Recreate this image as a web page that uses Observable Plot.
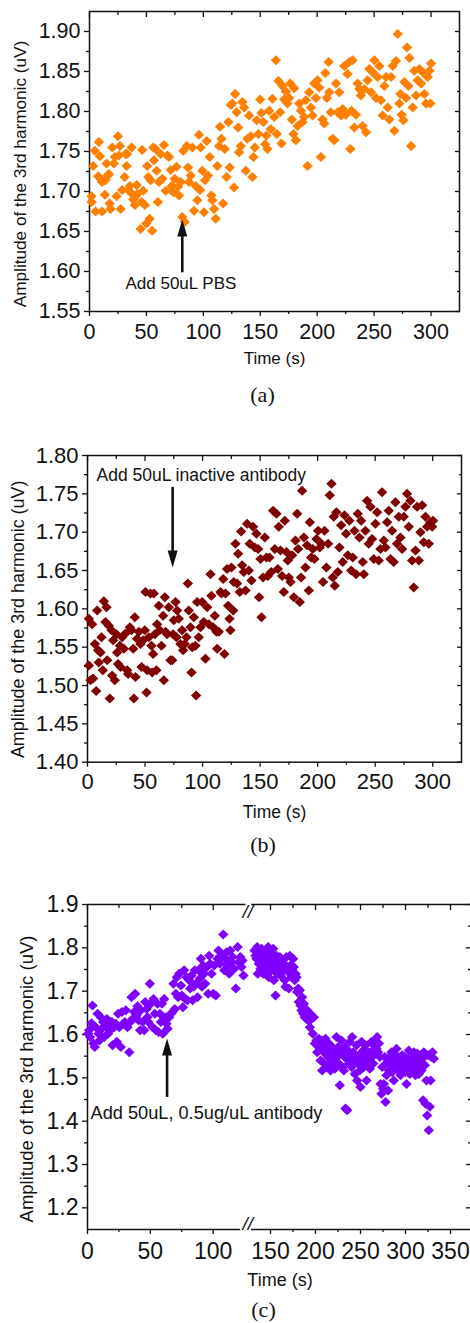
<!DOCTYPE html>
<html><head><meta charset="utf-8">
<script src="https://cdn.jsdelivr.net/npm/d3@7"></script>
<script src="https://cdn.jsdelivr.net/npm/@observablehq/plot@0.6"></script>
<style>
body{margin:0;background:#fff;}
#wrap{position:relative;width:470px;height:1323px;overflow:hidden;background:#fff;}
.panel{position:absolute;left:0;width:470px;}
.cap{position:absolute;font-family:"Liberation Serif","Times New Roman",serif;font-size:22px;color:#111;transform:translate(-50%,-50%);line-height:1;white-space:nowrap;}
svg{display:block}
</style></head><body><div id="wrap"></div>
<script>
// ---------- data ----------
const seriesA = [[1.8,1.694],[1.8,1.687],[3.2,1.732],[4.7,1.751],[5.3,1.675],[7.6,1.719],[8.2,1.762],[9.1,1.744],[9.7,1.716],[11,1.712],[11,1.675],[13.5,1.696],[14,1.714],[15,1.735],[16,1.72],[17,1.722],[17.6,1.685],[18.5,1.678],[20,1.755],[21.4,1.735],[22.3,1.743],[23.8,1.694],[25,1.769],[25.8,1.745],[26.7,1.757],[27.3,1.678],[28.7,1.702],[30.8,1.718],[31.7,1.747],[32.6,1.732],[33,1.747],[34,1.702],[35.5,1.707],[37,1.755],[37.5,1.697],[38.4,1.69],[39.9,1.683],[40.5,1.694],[41.4,1.708],[42,1.697],[44.9,1.653],[45.8,1.687],[46.3,1.752],[47.2,1.701],[48.7,1.683],[49.9,1.66],[50.7,1.732],[51.6,1.718],[52.8,1.666],[53.7,1.714],[55.1,1.651],[56,1.755],[56.6,1.739],[58,1.753],[59,1.726],[60.1,1.687],[61,1.712],[62.5,1.747],[64,1.716],[65.4,1.758],[66.9,1.701],[68.3,1.745],[69.8,1.743],[71.3,1.727],[72.2,1.707],[73.6,1.699],[74.8,1.716],[76.5,1.731],[77.7,1.706],[78.6,1.695],[80.1,1.712],[81.5,1.668],[82.4,1.751],[83.6,1.662],[85.4,1.757],[86.5,1.73],[87.4,1.712],[88.9,1.72],[90.3,1.755],[91.8,1.676],[93.3,1.707],[94.7,1.689],[96.2,1.771],[97.1,1.702],[97.7,1.755],[99.1,1.726],[100.6,1.674],[101.5,1.714],[102.9,1.763],[104.1,1.72],[105.6,1.743],[107,1.695],[107.9,1.689],[109.4,1.678],[110.9,1.666],[112.3,1.732],[113.8,1.757],[114.7,1.781],[115.9,1.766],[117.3,1.685],[118.8,1.753],[120.5,1.718],[122,1.787],[123.2,1.73],[124.1,1.808],[125.5,1.81],[127,1.705],[127.9,1.822],[129.3,1.799],[130.5,1.78],[131.4,1.749],[132.9,1.757],[134.3,1.812],[135.8,1.805],[137.3,1.726],[138.7,1.766],[140.2,1.795],[141.7,1.769],[143.1,1.718],[144,1.743],[145.2,1.755],[146.9,1.789],[148.4,1.772],[149.9,1.815],[151,1.798],[152.8,1.787],[154.3,1.759],[155.4,1.77],[156.3,1.753],[157.8,1.801],[159.3,1.778],[160.7,1.816],[162.2,1.793],[163.7,1.864],[164.5,1.772],[166,1.838],[167.5,1.799],[168.6,1.76],[169.5,1.832],[171,1.815],[172.5,1.825],[173.9,1.81],[175.4,1.817],[176.3,1.835],[177.7,1.79],[179.2,1.772],[179.8,1.829],[181.3,1.764],[182.7,1.782],[184.2,1.81],[185.7,1.801],[187.1,1.787],[188.6,1.793],[190,1.814],[191.5,1.732],[193,1.824],[194.5,1.805],[195.9,1.795],[197.4,1.835],[198.9,1.817],[200.3,1.839],[201.8,1.83],[203.3,1.743],[204.7,1.79],[206.2,1.785],[207.1,1.848],[208.5,1.817],[210,1.862],[210.6,1.824],[212,1.799],[213.5,1.766],[215,1.764],[216.5,1.835],[218,1.799],[219.4,1.824],[220.9,1.795],[222.3,1.803],[223.8,1.857],[225.2,1.796],[226.7,1.847],[228.2,1.862],[229.1,1.753],[230.2,1.801],[231.1,1.864],[232.6,1.78],[234,1.796],[235.5,1.835],[237,1.828],[238.4,1.82],[239.9,1.782],[241.4,1.828],[242.9,1.774],[244.3,1.839],[245.8,1.853],[247.3,1.824],[248.7,1.849],[250.2,1.864],[251.7,1.817],[253.1,1.843],[254.6,1.857],[256,1.814],[257.5,1.795],[259,1.832],[260.4,1.843],[261.9,1.805],[263.4,1.79],[264.8,1.843],[266.3,1.857],[267.8,1.776],[269.2,1.863],[270.7,1.897],[272.2,1.81],[273.1,1.822],[274.2,1.796],[275.7,1.789],[276.6,1.837],[278.1,1.817],[278.9,1.88],[280.1,1.832],[281,1.867],[282.5,1.757],[283.9,1.805],[285.4,1.851],[286.8,1.82],[288.3,1.839],[289.8,1.853],[291.2,1.835],[292.7,1.849],[294.2,1.822],[295.6,1.81],[297.1,1.843],[298.6,1.851],[299.4,1.81],[300,1.86]];

const seriesB = [[1.2,1.587],[1.2,1.526],[2.6,1.507],[4,1.58],[4.9,1.509],[6.4,1.554],[7.5,1.493],[8.4,1.598],[9.3,1.546],[9.8,1.53],[11.3,1.543],[12.2,1.563],[13.3,1.52],[14.2,1.61],[15.6,1.583],[16.5,1.602],[17.1,1.533],[18.5,1.578],[19.4,1.483],[20.9,1.572],[21.4,1.513],[22.3,1.559],[23.7,1.507],[25.2,1.567],[25.8,1.543],[26.6,1.528],[28.1,1.552],[28.7,1.524],[30.1,1.563],[31.6,1.548],[33,1.568],[34.5,1.52],[35.3,1.515],[36.8,1.576],[38.2,1.572],[39.7,1.548],[40.3,1.483],[41.1,1.589],[41.7,1.511],[43.1,1.561],[44.6,1.57],[46,1.554],[47,1.524],[48.4,1.559],[49.8,1.572],[50.4,1.622],[51.3,1.491],[51.8,1.52],[53.3,1.563],[54.7,1.62],[55.6,1.552],[56.2,1.517],[57,1.541],[57.6,1.62],[58.5,1.567],[59.9,1.52],[60.5,1.58],[62,1.604],[62.8,1.572],[64.3,1.552],[65.7,1.591],[66.3,1.507],[67.2,1.615],[67.8,1.57],[69.2,1.567],[70.7,1.602],[72.1,1.533],[73.6,1.533],[74.4,1.567],[75,1.585],[76.5,1.609],[77.3,1.563],[77.9,1.598],[79.3,1.587],[80.8,1.554],[82.2,1.572],[83.1,1.546],[84.6,1.554],[86,1.563],[87.2,1.633],[88,1.598],[89.5,1.576],[90.4,1.517],[91,1.55],[92.4,1.589],[93.8,1.552],[94.4,1.487],[95.3,1.609],[96.7,1.563],[98.2,1.576],[99.6,1.609],[101.1,1.583],[102.5,1.535],[104,1.602],[105.4,1.58],[106.9,1.645],[107.7,1.617],[109.2,1.576],[110.6,1.591],[112.1,1.57],[112.7,1.548],[114.1,1.57],[115.6,1.622],[116.4,1.62],[117.9,1.639],[119,1.541],[119.9,1.62],[121.3,1.652],[122.2,1.604],[123.4,1.587],[124.2,1.572],[125.1,1.654],[126.6,1.598],[127.1,1.635],[128.6,1.685],[130,1.633],[130.9,1.672],[132.3,1.622],[133.5,1.701],[134.4,1.657],[135.8,1.648],[137.3,1.624],[138.7,1.711],[140.2,1.65],[141,1.685],[142.5,1.637],[143.9,1.707],[145.4,1.68],[146.8,1.698],[148.3,1.678],[149.1,1.615],[150.3,1.665],[151.2,1.589],[152.6,1.641],[154.1,1.693],[155.5,1.667],[156.7,1.643],[158.1,1.667],[159.6,1.648],[161.3,1.728],[162.8,1.678],[164.2,1.724],[165.4,1.652],[166.2,1.707],[167.7,1.676],[169.1,1.643],[170.6,1.622],[171.4,1.715],[172.9,1.674],[174,1.663],[174.9,1.641],[176.4,1.635],[177.8,1.67],[179.3,1.615],[180.7,1.689],[182.2,1.724],[183,1.678],[184.5,1.609],[185.6,1.641],[186.5,1.754],[188,1.693],[189.4,1.654],[190.8,1.683],[192.3,1.624],[193.2,1.713],[194.3,1.667],[195.8,1.678],[197.2,1.665],[199,1.691],[200.4,1.702],[201.9,1.68],[203.3,1.685],[204.7,1.635],[205.9,1.702],[207.6,1.654],[209.1,1.685],[210.5,1.748],[212,1.763],[213.1,1.641],[214,1.72],[214.9,1.63],[216.3,1.726],[217.5,1.648],[218.9,1.68],[220.4,1.709],[221.8,1.661],[223.3,1.722],[224.7,1.698],[226.2,1.67],[227.6,1.715],[229.1,1.65],[230.5,1.667],[232,1.702],[233.4,1.645],[234.9,1.724],[236.3,1.693],[237.8,1.715],[239.2,1.661],[240.1,1.645],[241.5,1.702],[243,1.741],[244.4,1.685],[245.9,1.733],[247.3,1.691],[248.8,1.665],[250.2,1.711],[251.7,1.726],[253.1,1.663],[254.6,1.678],[256,1.752],[257.5,1.689],[258.9,1.68],[260.4,1.713],[261.8,1.728],[263.3,1.665],[264.7,1.702],[266.1,1.661],[267.6,1.739],[269,1.685],[270.5,1.72],[271.9,1.693],[273.4,1.678],[274.8,1.72],[276.3,1.733],[277.7,1.75],[279.2,1.707],[280.6,1.741],[282.1,1.663],[283.5,1.628],[285,1.676],[286.4,1.733],[287.9,1.663],[289.3,1.7],[290.8,1.735],[292.2,1.687],[293.7,1.72],[295.1,1.707],[296.6,1.685],[298,1.713],[299.5,1.707],[300.3,1.715]];

const seriesC = [[0.5,1.602],[1.3,1.61],[2.1,1.594],[3.2,1.626],[4,1.667],[4.8,1.579],[5.8,1.571],[6.6,1.617],[8,1.648],[8.8,1.602],[9.5,1.586],[10.6,1.64],[11.4,1.613],[12.5,1.629],[13.3,1.594],[14.6,1.617],[15.4,1.636],[16.4,1.602],[17.2,1.625],[18,1.61],[19.4,1.629],[19.9,1.575],[21.2,1.617],[22.5,1.625],[23.3,1.583],[24.4,1.648],[25.2,1.617],[26.5,1.571],[27.3,1.652],[28.6,1.625],[29.7,1.629],[30.5,1.656],[31.8,1.617],[33.2,1.559],[34,1.629],[35,1.686],[35.8,1.636],[37.1,1.652],[37.9,1.694],[39,1.644],[39.8,1.665],[40.6,1.633],[41.9,1.61],[42.4,1.656],[43.8,1.629],[45.1,1.61],[45.9,1.675],[47,1.659],[47.7,1.64],[48.5,1.629],[49.6,1.717],[50.4,1.671],[51.7,1.617],[52.5,1.682],[53.6,1.648],[54.4,1.61],[55.7,1.671],[56.5,1.606],[57.6,1.648],[58.4,1.629],[59.2,1.671],[59.9,1.602],[61,1.682],[61.8,1.64],[62.9,1.625],[63.7,1.613],[65,1.64],[66.3,1.648],[67.6,1.652],[68.4,1.717],[69.5,1.659],[70.3,1.694],[71.1,1.732],[72.1,1.686],[72.9,1.74],[74.3,1.713],[75.1,1.69],[75.9,1.663],[76.9,1.748],[77.7,1.682],[78.8,1.732],[79.6,1.679],[80.9,1.725],[81.7,1.706],[82.8,1.736],[83.6,1.679],[84.4,1.71],[85.4,1.748],[86.2,1.717],[87.5,1.686],[88.3,1.748],[89.4,1.729],[90.2,1.775],[91,1.71],[92,1.759],[92.8,1.74],[93.6,1.717],[95,1.756],[96,1.694],[96.8,1.782],[97.6,1.763],[98.7,1.74],[100,1.694],[100.8,1.759],[102.1,1.69],[103.4,1.775],[104.2,1.794],[105.3,1.763],[106.6,1.779],[108,1.831],[108.8,1.748],[109.5,1.775],[110.6,1.79],[111.4,1.759],[112.7,1.74],[113.5,1.794],[114.6,1.767],[115.4,1.779],[116.7,1.752],[118,1.706],[119.4,1.802],[120.2,1.767],[121.5,1.779],[122.5,1.756],[123.3,1.771],[124.1,1.736],
[132.2,1.794],[133.3,1.782],[134.4,1.775],[135.2,1.802],[135.9,1.74],[137,1.763],[138.1,1.786],[138.9,1.752],[140,1.798],[140.7,1.771],[141.9,1.74],[142.6,1.782],[143.7,1.759],[144.4,1.79],[145.6,1.748],[146.3,1.775],[147.4,1.802],[148.1,1.732],[149.3,1.763],[150,1.79],[151.1,1.748],[151.9,1.775],[153,1.798],[153.7,1.725],[154.8,1.759],[155.6,1.69],[156.7,1.782],[157.4,1.74],[158.5,1.767],[159.3,1.752],[160.4,1.779],[161.1,1.736],[162.2,1.756],[163,1.771],[164.1,1.748],[164.8,1.763],[165.9,1.725],[166.7,1.71],[167.8,1.779],[168.5,1.756],[169.6,1.744],[170.4,1.706],[171.5,1.782],[172.2,1.759],[173.3,1.732],[174.1,1.748],[175.2,1.775],[175.9,1.756],[177,1.725],[177.8,1.74],[178.9,1.732],[179.6,1.698],[180.7,1.706],[181.5,1.675],[182.6,1.702],[183.3,1.667],[184.4,1.656],[185.2,1.686],[186.3,1.648],[187,1.671],[188.1,1.64],[188.9,1.659],[190,1.636],[190.7,1.656],[191.9,1.633],[192.6,1.64],[193.7,1.617],[194.4,1.648],[195.6,1.636],[197,1.602],[198.1,1.64],[199.3,1.579],[200,1.579],[201.1,1.586],[201.9,1.559],[203,1.579],[203.7,1.59],[204.8,1.567],[205.6,1.54],[206.7,1.586],[207.4,1.517],[208.5,1.536],[209.3,1.575],[210.4,1.556],[211.1,1.59],[212.2,1.525],[213,1.563],[214.1,1.548],[214.8,1.579],[215.9,1.533],[216.7,1.517],[217.8,1.556],[218.5,1.571],[219.6,1.536],[220.4,1.552],[221.5,1.521],[222.2,1.559],[223.3,1.594],[224.1,1.548],[225.2,1.571],[225.9,1.533],[227,1.483],[227.8,1.559],[228.9,1.586],[229.6,1.525],[230.7,1.552],[231.5,1.517],[232.6,1.571],[233.3,1.429],[234.4,1.544],[235.2,1.425],[236.3,1.563],[237,1.533],[238.1,1.583],[238.9,1.552],[240,1.525],[240.7,1.594],[241.9,1.559],[242.6,1.536],[243.7,1.509],[244.4,1.544],[245.6,1.575],[246.3,1.494],[247.4,1.533],[248.1,1.552],[249.3,1.517],[250,1.479],[251.1,1.583],[251.9,1.54],[253,1.563],[253.7,1.525],[254.8,1.548],[255.6,1.575],[256.7,1.494],[257.4,1.529],[258.5,1.559],[259.3,1.54],[260.4,1.521],[261.1,1.559],[262.2,1.583],[263,1.548],[264.1,1.533],[264.8,1.575],[265.9,1.556],[266.7,1.586],[267.8,1.567],[268.5,1.594],[269.6,1.559],[270.4,1.579],[271.5,1.548],[272.2,1.486],[273.3,1.463],[274.1,1.525],[275.2,1.475],[275.9,1.486],[277,1.548],[277.8,1.444],[278.9,1.506],[279.6,1.536],[280.7,1.471],[281.5,1.517],[282.6,1.548],[283.3,1.533],[284.4,1.559],[285.2,1.513],[286.3,1.536],[287,1.494],[288.1,1.552],[288.9,1.525],[290,1.567],[290.7,1.536],[291.9,1.517],[292.6,1.548],[293.7,1.525],[294.4,1.506],[295.6,1.536],[296.3,1.552],[297.4,1.517],[298.1,1.533],[299.3,1.548],[300,1.513],[301.1,1.486],[301.9,1.525],[303,1.544],[303.7,1.563],[304.8,1.509],[305.6,1.529],[306.7,1.548],[307.4,1.517],[308.5,1.536],[309.3,1.559],[310.4,1.521],[311.1,1.506],[312.2,1.54],[313,1.556],[314.1,1.525],[314.8,1.509],[315.9,1.536],[316.7,1.552],[317.8,1.517],[318.5,1.544],[319.6,1.448],[320.4,1.559],[321.5,1.529],[322.2,1.44],[323.3,1.494],[324.1,1.413],[325.2,1.552],[325.9,1.379],[327,1.433],[327.8,1.494],[328.9,1.548],[330,1.559],[331.5,1.544]];

// tick values
const xMajorAB = [0,50,100,150,200,250,300];
const xMinorAB = [25,75,125,175,225,275];
const yMajorA = [1.55,1.60,1.65,1.70,1.75,1.80,1.85,1.90];
const yMinorA = [1.575,1.625,1.675,1.725,1.775,1.825,1.875];
const yMajorB = [1.40,1.45,1.50,1.55,1.60,1.65,1.70,1.75,1.80];
const yMinorB = [1.425,1.475,1.525,1.575,1.625,1.675,1.725,1.775];
const xMajorC = [0,50,100,150,200,250,300,350];
const xMinorC = [25,75,175,225,275,325];
const yMajorC = [1.2,1.3,1.4,1.5,1.6,1.7,1.8,1.9];
const yMinorC = [1.25,1.35,1.45,1.55,1.65,1.75,1.85];
// broken time axis of panel (c): left part, right part
const xLeftC = [0, 126];
const xRightC = [129, 372.2];

// annotations
const noteA = {t: 31.6, v: 1.585, text: "Add 50uL PBS"};
const arrowA = {t: 81.5, tail: 1.599, base: 1.646, tip: 1.665, dir: "up"};
const noteB = {t: 7.8, v: 1.774, text: "Add 50uL inactive antibody"};
const arrowB = {t: 74, tail: 1.759, base: 1.674, tip: 1.654, dir: "down"};
const noteC = {t: 2.4, v: 1.418, text: "Add 50uL, 0.5ug/uL antibody"};
const arrowC = {t: 63.3, tail: 1.456, base: 1.553, tip: 1.591, dir: "up"};

const xLabel = "Time (s)";
const yLabel = "Amplitude of the 3rd harmonic (uV)";

// ---------- drawing ----------
const FONT = "'Liberation Sans', Arial, sans-serif";
const INK = "#111";
function diamond(hw, hh){ return {draw(c){ c.moveTo(0,-hh); c.lineTo(hw,0); c.lineTo(0,hh); c.lineTo(-hw,0); c.closePath(); }}; }
function head(hw, len, dir){ const s = dir === "up" ? 1 : -1; return {draw(c){ c.moveTo(0,0); c.lineTo(hw,s*len); c.lineTo(-hw,s*len); c.closePath(); }}; }

function makePanel(cfg){
  const noFmt = () => "";
  const [x0, x1] = cfg.xDomain;
  const inX = v => v >= x0 && v <= x1;
  const xMajor = cfg.xMajor.filter(inX), xMinor = cfg.xMinor.filter(inX);
  const marks = [];
  const border = {stroke: INK, strokeWidth: 1.5};
  if (cfg.border === "full") marks.push(Plot.frame(border));
  else {
    marks.push(Plot.ruleY([cfg.yDomain[0], cfg.yDomain[1]], border));
    if (cfg.leftAxis) marks.push(Plot.ruleX([x0], border));
  }
  const tk = {stroke: INK, strokeWidth: 1.3, label: null};
  // bottom (outward) + top (inward)
  marks.push(Plot.axisX({...tk, anchor: "bottom", ticks: xMajor, tickSize: 5, tickPadding: cfg.padX, fontSize: cfg.tickFont, fill: INK}));
  marks.push(Plot.axisX({...tk, anchor: "bottom", ticks: xMinor, tickSize: 3, tickFormat: noFmt}));
  marks.push(Plot.axisX({...tk, anchor: "top", ticks: xMajor, tickSize: 5, dy: 5, tickFormat: noFmt}));
  marks.push(Plot.axisX({...tk, anchor: "top", ticks: xMinor, tickSize: 3, dy: 3, tickFormat: noFmt}));
  if (cfg.leftAxis) {
    marks.push(Plot.axisY({...tk, anchor: "left", ticks: cfg.yMajor, tickSize: 5, tickPadding: 4, fontSize: cfg.tickFont, fill: INK, tickFormat: cfg.yFmt}));
    marks.push(Plot.axisY({...tk, anchor: "left", ticks: cfg.yMinor, tickSize: 3, tickFormat: noFmt}));
  }
  if (cfg.rightAxis) {
    marks.push(Plot.axisY({...tk, anchor: "right", ticks: cfg.yMajor, tickSize: 5, dx: -5, tickFormat: noFmt}));
    marks.push(Plot.axisY({...tk, anchor: "right", ticks: cfg.yMinor, tickSize: 3, dx: -3, tickFormat: noFmt}));
  }
  if (cfg.breakAt != null) {
    for (const fa of ["top", "bottom"]) {
      marks.push(Plot.text(["//"], {x: () => cfg.breakAt, frameAnchor: fa, text: d => d, fontSize: 19, fontStyle: "italic", fill: INK, stroke: "white", strokeWidth: 3, paintOrder: "stroke"}));
    }
  }
  // data
  marks.push(Plot.dot(cfg.data.filter(d => inX(d[0])), {x: d => d[0], y: d => d[1], fill: cfg.color, symbol: diamond(5.2, 5)}));
  if (cfg.arrow) {
    const a = cfg.arrow;
    marks.push(Plot.link([a], {x1: d => d.t, x2: d => d.t, y1: d => d.tail, y2: d => d.base, stroke: INK, strokeWidth: 2.6}));
    marks.push(Plot.dot([a], {x: d => d.t, y: d => d.tip, fill: INK, symbol: head(5, 17, a.dir)}));
  }
  if (cfg.note) {
    marks.push(Plot.text([cfg.note], {x: d => d.t, y: d => d.v, text: d => d.text, textAnchor: "start", fontSize: cfg.noteFont, fill: INK}));
  }
  if (cfg.labels) {
    marks.push(Plot.text([xLabel], {text: d => d, frameAnchor: "bottom", textAnchor: "middle", dx: cfg.xLabDx || 0, dy: cfg.xLabDy, fontSize: cfg.labFont, fill: INK}));
    marks.push(Plot.text([yLabel], {text: d => d, frameAnchor: "left", textAnchor: "middle", rotate: -90, dx: cfg.yLabDx, dy: cfg.yLabDy, fontSize: cfg.yLabFont, fill: INK}));
  }
  return Plot.plot({
    width: 470, height: cfg.height,
    marginTop: cfg.mt, marginBottom: cfg.mb, marginLeft: cfg.ml, marginRight: cfg.mr,
    x: {domain: cfg.xDomain},
    y: {domain: cfg.yDomain},
    style: {fontFamily: FONT, color: INK, background: cfg.bg || "white", overflow: "visible"},
    marks
  });
}

const wrap = document.getElementById("wrap");
function place(el, top){ const d = document.createElement("div"); d.className = "panel"; d.style.top = top + "px"; d.appendChild(el); wrap.appendChild(d); }
function caption(txt, x, y){ const d = document.createElement("div"); d.className = "cap"; d.textContent = txt; d.style.left = x + "px"; d.style.top = y + "px"; wrap.appendChild(d); }

const fmt2 = d3.format(".2f"), fmt1 = d3.format(".1f");

place(makePanel({
  height: 380, mt: 11, mb: 69, ml: 89, mr: 11, border: "full", leftAxis: true, rightAxis: true, labels: true,
  xDomain: [0, 325], yDomain: [1.55, 1.925],
  xMajor: xMajorAB, xMinor: xMinorAB, yMajor: yMajorA, yMinor: yMinorA, yFmt: fmt2,
  tickFont: 21.5, padX: 7, data: seriesA, color: "#ff8000",
  arrow: arrowA, note: noteA, noteFont: 17,
  xLabDy: 52, labFont: 17, yLabDx: -69, yLabDy: 12.5, yLabFont: 17.2
}), 0);
caption("(a)", 262.5, 395);

place(makePanel({
  height: 440, mt: 25, mb: 108.3, ml: 87, mr: 9, border: "full", leftAxis: true, rightAxis: true, labels: true,
  xDomain: [0, 325], yDomain: [1.40, 1.80],
  xMajor: xMajorAB, xMinor: xMinorAB, yMajor: yMajorB, yMinor: yMinorB, yFmt: fmt2,
  tickFont: 22, padX: 6, data: seriesB, color: "#800000",
  arrow: arrowB, note: noteB, noteFont: 17.5,
  xLabDy: 55.3, labFont: 17.5, yLabDx: -69, yLabDy: 10.5, yLabFont: 17.9
}), 430);
caption("(b)", 263, 845);

// panel (c): broken x axis drawn as two aligned Plot charts sharing the y scale
const cCommon = {height: 430, mt: 34, mb: 71, yDomain: [1.15, 1.9], xMajor: xMajorC, xMinor: xMinorC,
  yMajor: yMajorC, yMinor: yMinorC, yFmt: fmt1, tickFont: 23, padX: 8, data: seriesC, color: "#8000ff", border: "rules"};
place(makePanel({...cCommon, ml: 87, mr: 470 - 245.4, xDomain: xLeftC, leftAxis: true, labels: true,
  breakAt: (xLeftC[1] + xRightC[0]) / 2,
  arrow: arrowC, note: noteC, noteFont: 18.2,
  xLabDx: 113.3, xLabDy: 56, labFont: 18, yLabDx: -60, yLabDy: 12, yLabFont: 18.5
}), 870);
place(makePanel({...cCommon, ml: 251.1, mr: 0, xDomain: xRightC, rightAxis: true, bg: "transparent"}), 870);
caption("(c)", 263.5, 1310);
</script></body></html>
